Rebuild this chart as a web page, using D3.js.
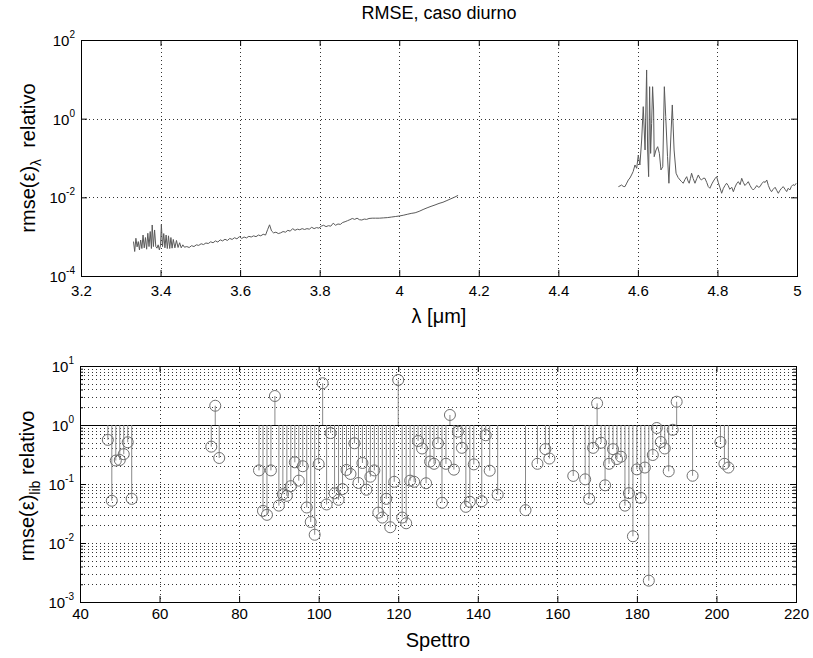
<!DOCTYPE html>
<html>
<head>
<meta charset="utf-8">
<script src="https://cdn.jsdelivr.net/npm/d3@7"></script>
<style>
  body { margin: 0; background: #fff; }
  text { font-family: "Liberation Sans", Arial, sans-serif; fill: #000; }
  .tick text { font-size: 15px; }
  .tick line { stroke: #000; }
  .grid { stroke: #333; stroke-width: 1; stroke-dasharray: 1,3; }
  .label { font-size: 20px; }
</style>
</head>
<body>
<div id="chart"></div>
<script>
// ---- data: upper panel, two spectral windows ----
var lambdaA = [3.332,3.335,3.338,3.341,3.344,3.347,3.350,3.353,3.356,3.359,3.362,3.365,3.368,3.371,3.374,3.377,
  3.379,3.382,3.385,3.388,3.391,3.394,3.397,3.400,3.402,3.405,3.408,3.411,3.414,3.417,3.420,3.423,3.426,3.429,
  3.432,3.436,3.440,3.444,3.448,3.452,3.456,3.460,3.466,3.472,3.478,3.484,3.490,3.496,3.502,3.508,3.514,3.520,
  3.526,3.532,3.538,3.544,3.550,3.556,3.562,3.568,3.574,3.580,3.586,3.592,3.598,3.604,3.610,3.616,3.622,3.628,
  3.634,3.640,3.646,3.652,3.658,3.664,3.669,3.674,3.679,3.684,3.690,3.696,3.702,3.708,3.714,3.720,3.726,3.732,
  3.738,3.744,3.750,3.756,3.762,3.768,3.774,3.780,3.786,3.792,3.798,3.804,3.810,3.816,3.822,3.828,3.834,3.840,
  3.846,3.852,3.858,3.864,3.870,3.876,3.882,3.888,3.894,3.900,3.906,3.912,3.918,3.924,3.932,3.940,3.950,3.960,
  3.970,3.980,3.990,4.000,4.010,4.020,4.030,4.040,4.050,4.060,4.070,4.080,4.090,4.100,4.110,4.120,4.130,4.140,4.148];
var rmseA = [7.5e-4,4.2e-4,9.1e-4,5.5e-4,7.5e-4,4.6e-4,8.2e-4,5.0e-4,1.1e-3,5.2e-4,9.5e-4,4.8e-4,1.22e-3,5.6e-4,1.35e-3,5.0e-4,
  1.98e-3,5.6e-4,1.48e-3,5.6e-4,5.1e-4,6.2e-4,4.6e-4,6.1e-4,2.04e-3,5.6e-4,1.2e-3,5.2e-4,1.1e-3,5.0e-4,1.05e-3,5.0e-4,9.5e-4,5.1e-4,
  8.5e-4,5.2e-4,8.0e-4,5.3e-4,7.0e-4,5.2e-4,6.2e-4,5.4e-4,5.6e-4,5.3e-4,5.9e-4,5.6e-4,6.2e-4,6.0e-4,6.6e-4,6.3e-4,6.9e-4,6.7e-4,
  7.4e-4,7.0e-4,7.8e-4,7.3e-4,8.3e-4,7.8e-4,8.6e-4,8.0e-4,9.0e-4,8.5e-4,9.4e-4,8.8e-4,1.0e-3,9.0e-4,9.8e-4,9.3e-4,1.02e-3,9.8e-4,
  1.05e-3,1.0e-3,1.1e-3,1.05e-3,1.15e-3,1.1e-3,1.5e-3,2.0e-3,1.4e-3,1.25e-3,1.3e-3,1.2e-3,1.25e-3,1.35e-3,1.3e-3,1.45e-3,1.38e-3,1.6e-3,
  1.45e-3,1.55e-3,1.5e-3,1.6e-3,1.52e-3,1.6e-3,1.55e-3,1.73e-3,1.6e-3,1.7e-3,1.65e-3,1.85e-3,1.95e-3,1.8e-3,1.9e-3,1.85e-3,2.2e-3,1.95e-3,
  2.1e-3,2.05e-3,2.3e-3,2.4e-3,2.55e-3,2.7e-3,2.9e-3,2.75e-3,2.95e-3,2.7e-3,2.65e-3,2.8e-3,2.75e-3,2.9e-3,2.95e-3,2.95e-3,2.95e-3,3.0e-3,
  3.05e-3,3.15e-3,3.25e-3,3.35e-3,3.5e-3,3.7e-3,3.9e-3,4.05e-3,4.4e-3,4.9e-3,5.4e-3,5.9e-3,6.4e-3,7.0e-3,7.5e-3,8.3e-3,9.2e-3,1.02e-2,1.12e-2];

var lambdaB = [4.551,4.555,4.559,4.563,4.5675,4.572,4.576,4.580,4.584,4.588,4.5927,4.597,4.601,4.605,4.6095,4.6135,
  4.618,4.622,4.6245,4.627,4.6295,4.632,4.6345,4.637,4.6395,4.641,4.6455,4.6497,4.654,4.658,4.6625,4.6665,4.670,
  4.6745,4.678,4.6825,4.6865,4.691,4.696,4.701,4.706,4.710,4.714,4.718,4.7227,4.726,4.729,4.732,4.735,4.739,4.7435,
  4.748,4.752,4.756,4.760,4.764,4.7686,4.773,4.777,4.781,4.786,4.790,4.794,4.798,4.802,4.806,4.8106,4.815,4.819,
  4.823,4.827,4.831,4.836,4.840,4.844,4.848,4.8524,4.857,4.861,4.865,4.869,4.873,4.8775,4.882,4.886,4.890,4.894,
  4.899,4.903,4.907,4.911,4.916,4.920,4.924,4.928,4.932,4.936,4.940,4.945,4.949,4.953,4.957,4.961,4.9655,4.970,
  4.974,4.978,4.982,4.986,4.990,4.994,4.998];
var rmseB = [0.0187,0.0195,0.0206,0.019,0.0187,0.023,0.0276,0.031,0.037,0.045,0.0665,0.0547,0.119,0.0665,0.287,2.02,
  0.16,17.3,0.16,0.0335,6.5,0.131,0.76,6.5,1.66,0.108,0.16,0.194,0.131,0.0497,0.06,6.5,1.12,
  0.108,0.0228,0.287,2.23,0.16,0.041,0.032,0.0276,0.025,0.0228,0.028,0.0335,0.026,0.0228,0.03,0.041,0.03,0.0228,
  0.03,0.037,0.03,0.0276,0.0305,0.0305,0.024,0.0187,0.017,0.022,0.026,0.03,0.0335,0.024,0.018,0.0127,0.017,0.02,
  0.0228,0.02,0.016,0.018,0.0139,0.018,0.022,0.025,0.021,0.0305,0.024,0.02,0.022,0.025,0.02,0.017,0.0154,0.017,
  0.02,0.018,0.0187,0.022,0.025,0.024,0.0276,0.02,0.016,0.0139,0.016,0.018,0.015,0.0127,0.015,0.017,0.0187,0.016,
  0.014,0.017,0.0154,0.019,0.021,0.02,0.0228];

// ---- data: lower panel, stem plot per spectrum ----
var spettro = [47,48,49,50,51,52,53,73,74,75,85,86,87,88,89,90,91,92,93,94,95,96,97,98,99,100,101,102,103,104,105,
  106,107,108,109,110,111,112,113,114,115,116,117,118,119,120,121,122,123,124,125,126,127,128,129,130,131,132,133,
  134,135,136,137,138,139,141,142,143,145,152,155,157,158,164,167,168,169,170,171,172,173,174,175,176,177,178,179,
  180,181,182,183,184,185,186,187,188,189,190,194,201,202,203];
var rmseLib = [0.56,0.052,0.25,0.255,0.32,0.51,0.056,0.43,2.12,0.276,0.17,0.035,0.030,0.17,3.1,0.043,0.067,0.063,0.092,
  0.233,0.114,0.20,0.040,0.0227,0.0138,0.218,5.1,0.045,0.73,0.0695,0.054,0.082,0.173,0.148,0.49,0.104,0.227,0.080,
  0.133,0.17,0.0327,0.027,0.056,0.0185,0.109,5.8,0.027,0.0216,0.114,0.109,0.535,0.40,0.103,0.24,0.22,0.49,0.048,0.22,
  1.48,0.175,0.77,0.41,0.041,0.050,0.215,0.051,0.67,0.168,0.066,0.036,0.22,0.39,0.27,0.137,0.12,0.056,0.41,2.33,0.50,
  0.095,0.22,0.39,0.265,0.29,0.043,0.070,0.013,0.177,0.058,0.19,0.0023,0.31,0.89,0.515,0.40,0.164,0.83,2.48,0.138,
  0.515,0.22,0.19];

// ---- ticks ----
var xTicksA = [3.2,3.4,3.6,3.8,4,4.2,4.4,4.6,4.8,5];
var yTicksA = [1e-4,1e-2,1,1e2];
var xTicksB = [40,60,80,100,120,140,160,180,200,220];
var yTicksB = [1e-3,1e-2,1e-1,1,10];

var svgWidth = 813;
var svgHeight = 658;

var svg = d3.select("#chart")
  .append("svg")
  .attr("width", svgWidth)
  .attr("height", svgHeight);

var boxA = { left: 81, right: 797, top: 40, bottom: 276 };
var boxB = { left: 80, right: 796, top: 366, bottom: 602 };

var xA = d3.scaleLinear().domain([3.2, 5]).range([boxA.left, boxA.right]);
var yA = d3.scaleLog().domain([1e-4, 1e2]).range([boxA.bottom, boxA.top]);
var xB = d3.scaleLinear().domain([40, 220]).range([boxB.left, boxB.right]);
var yB = d3.scaleLog().domain([1e-3, 10]).range([boxB.bottom, boxB.top]);

// minor log ticks (2..9 of each decade)
function minorTicks(decades) {
  var out = [];
  decades.slice(0, -1).forEach(function(d) {
    for (var k = 2; k <= 9; k++) out.push(d * k);
  });
  return out;
}

function drawGrid(box, x, y, xt, yt) {
  var g = svg.append("g");
  g.selectAll(null).data(xt.slice(1, -1)).enter().append("line")
    .attr("class", "grid")
    .attr("x1", d => Math.round(x(d)) + 0.5).attr("x2", d => Math.round(x(d)) + 0.5)
    .attr("y1", box.top).attr("y2", box.bottom);
  g.selectAll(null).data(yt.filter(d => y(d) > box.top + 1 && y(d) < box.bottom - 1)).enter().append("line")
    .attr("class", "grid")
    .attr("x1", box.left).attr("x2", box.right)
    .attr("y1", d => Math.round(y(d)) + 0.5).attr("y2", d => Math.round(y(d)) + 0.5);
}

function drawAxes(box, x, y, xt, yMajor, yMinor, fmt, pad) {
  var h = box.bottom - box.top;
  var bottomAxis = d3.axisBottom(x).tickValues(xt).tickSizeInner(-6).tickSizeOuter(0).tickPadding(pad).tickFormat(fmt);
  var topAxis = d3.axisTop(x).tickValues(xt).tickSizeInner(-6).tickSizeOuter(0).tickFormat("");
  svg.append("g").attr("transform", `translate(0,${box.bottom})`).call(bottomAxis).select(".domain").remove();
  svg.append("g").attr("transform", `translate(0,${box.top})`).call(topAxis).select(".domain").remove();

  [[d3.axisLeft, box.left], [d3.axisRight, box.right]].forEach(function(a) {
    svg.append("g").attr("transform", `translate(${a[1]},0)`)
      .call(a[0](y).tickValues(yMajor).tickSizeInner(-6).tickSizeOuter(0).tickFormat(""))
      .select(".domain").remove();
    if (yMinor.length) {
      svg.append("g").attr("transform", `translate(${a[1]},0)`)
        .call(a[0](y).tickValues(yMinor).tickSizeInner(-3).tickSizeOuter(0).tickFormat(""))
        .select(".domain").remove();
    }
  });

  // y labels as 10^n
  yMajor.forEach(function(v) {
    var t = svg.append("text")
      .attr("x", box.left - 6)
      .attr("y", y(v) + 6)
      .attr("text-anchor", "end")
      .style("font-size", "15px");
    t.append("tspan").text("10");
    t.append("tspan").attr("dy", -8).style("font-size", "10px").text(Math.round(Math.log10(v)));
  });

  svg.append("rect")
    .attr("x", box.left + 0.5).attr("y", box.top + 0.5)
    .attr("width", box.right - box.left).attr("height", h)
    .attr("fill", "none").attr("stroke", "#000").attr("stroke-width", 1);
}

// ---- upper panel ----
drawGrid(boxA, xA, yA, xTicksA, yTicksA);

var line = d3.line().x(d => xA(d[0])).y(d => yA(d[1]));
svg.append("path")
  .datum(lambdaA.map((l, i) => [l, rmseA[i]]))
  .attr("d", line).attr("fill", "none").attr("stroke", "#5a5a5a").attr("stroke-width", 1);
svg.append("path")
  .datum(lambdaB.map((l, i) => [l, rmseB[i]]))
  .attr("d", line).attr("fill", "none").attr("stroke", "#5a5a5a").attr("stroke-width", 1);

drawAxes(boxA, xA, yA, xTicksA, yTicksA, [], d => String(+d.toFixed(1)), 9);

// ---- lower panel ----
var minorB = minorTicks(yTicksB);
drawGrid(boxB, xB, yB, xTicksB, yTicksB.concat(minorB));

svg.append("line")
  .attr("x1", boxB.left).attr("x2", boxB.right)
  .attr("y1", Math.round(yB(1)) + 0.5).attr("y2", Math.round(yB(1)) + 0.5)
  .attr("stroke", "#000").attr("stroke-width", 1);

var stems = svg.append("g");
stems.selectAll("line")
  .data(spettro)
  .enter()
  .append("line")
  .attr("x1", d => xB(d)).attr("x2", d => xB(d))
  .attr("y1", yB(1))
  .attr("y2", (d, i) => yB(rmseLib[i]))
  .attr("stroke", "#8a8a8a").attr("stroke-width", 1);

stems.selectAll("circle")
  .data(spettro)
  .enter()
  .append("circle")
  .attr("cx", d => xB(d))
  .attr("cy", (d, i) => yB(rmseLib[i]))
  .attr("r", 5.5)
  .attr("fill", "none")
  .attr("stroke", "#707070");

drawAxes(boxB, xB, yB, xTicksB, yTicksB, minorB, d => d, 6);

// ---- titles and labels ----
svg.append("text")
  .attr("x", (boxA.left + boxA.right) / 2).attr("y", 19)
  .attr("text-anchor", "middle").style("font-size", "18px")
  .text("RMSE, caso diurno");

svg.append("text")
  .attr("class", "label")
  .attr("x", (boxA.left + boxA.right) / 2).attr("y", 323)
  .attr("text-anchor", "middle")
  .text("λ [μm]");

svg.append("text")
  .attr("class", "label")
  .attr("x", (boxB.left + boxB.right) / 2).attr("y", 647)
  .attr("text-anchor", "middle")
  .text("Spettro");

var ylA = svg.append("text")
  .attr("class", "label")
  .attr("transform", "translate(35,158) rotate(-90)")
  .attr("text-anchor", "middle");
ylA.append("tspan").text("rmse(ε)");
ylA.append("tspan").attr("dy", 6).style("font-size", "14px").text("λ");
ylA.append("tspan").attr("dy", -6).text("\u00a0 relativo");

var ylB = svg.append("text")
  .attr("class", "label")
  .attr("transform", "translate(34,486) rotate(-90)")
  .attr("text-anchor", "middle");
ylB.append("tspan").text("rmse(ε)");
ylB.append("tspan").attr("dy", 6).style("font-size", "14px").text("lib");
ylB.append("tspan").attr("dy", -6).text(" relativo");
</script>
</body>
</html>
